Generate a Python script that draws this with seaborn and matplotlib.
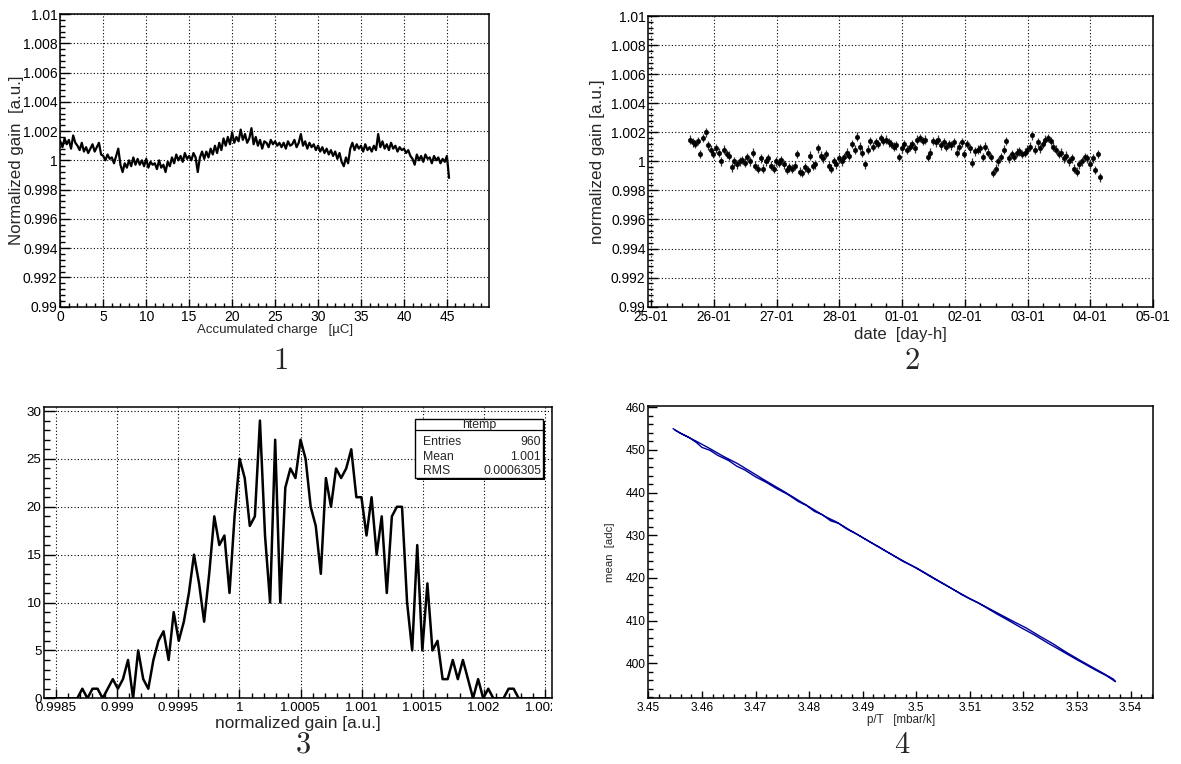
import numpy as np
import pandas as pd
import seaborn as sns
import matplotlib
matplotlib.use("Agg")
import matplotlib.pyplot as plt
from matplotlib.ticker import MultipleLocator, FixedLocator, FuncFormatter
from matplotlib.patches import Rectangle
from matplotlib.transforms import Bbox, TransformedBbox

# ---------------------------------------------------------------- data ----
# (1) normalized gain versus accumulated charge, one sample every 0.25 uC
charge_step_uC = 0.25
gain_vs_charge = [
    1.0013, 1.0009, 1.0015, 1.0011, 1.0014, 1.0008, 1.0017, 1.0012,
    1.0010, 1.0007, 1.0012, 1.0006, 1.0009, 1.0005, 1.0008, 1.0011,
    1.0006, 1.0009, 1.0012, 1.0004, 1.0003, 1.0000, 1.0004, 1.0001,
    1.0002, 0.9998, 1.0003, 1.0008, 0.9997, 0.9992, 0.9998, 0.9995,
    1.0000, 0.9996, 1.0002, 0.9997, 1.0001, 0.9997, 1.0000, 0.9996,
    1.0001, 0.9995, 0.9999, 0.9997, 0.9998, 0.9994, 1.0000, 0.9995,
    0.9997, 0.9992, 0.9999, 0.9996, 1.0002, 0.9998, 1.0004, 1.0000,
    1.0003, 0.9999, 1.0005, 1.0001, 1.0003, 1.0000, 1.0005, 1.0002,
    0.9992, 1.0002, 1.0006, 1.0001, 1.0006, 1.0002, 1.0008, 1.0004,
    1.0010, 1.0005, 1.0012, 1.0007, 1.0015, 1.0010, 1.0016, 1.0011,
    1.0019, 1.0012, 1.0016, 1.0013, 1.0021, 1.0014, 1.0018, 1.0012,
    1.0015, 1.0022, 1.0011, 1.0016, 1.0010, 1.0014, 1.0008, 1.0013,
    1.0012, 1.0009, 1.0014, 1.0011, 1.0013, 1.0010, 1.0012, 1.0009,
    1.0012, 1.0008, 1.0013, 1.0010, 1.0011, 1.0014, 1.0009, 1.0012,
    1.0018, 1.0010, 1.0013, 1.0008, 1.0012, 1.0009, 1.0011, 1.0007,
    1.0010, 1.0006, 1.0009, 1.0005, 1.0008, 1.0004, 1.0007, 1.0003,
    1.0006, 1.0001, 1.0005, 0.9999, 0.9996, 1.0002, 0.9998, 1.0008,
    1.0012, 1.0007, 1.0011, 1.0008, 1.0010, 1.0006, 1.0011, 1.0007,
    1.0009, 1.0006, 1.0010, 1.0007, 1.0018, 1.0009, 1.0013, 1.0008,
    1.0011, 1.0007, 1.0012, 1.0008, 1.0010, 1.0006, 1.0009, 1.0007,
    1.0008, 1.0005, 1.0007, 1.0003, 1.0001, 0.9997, 1.0004, 1.0000,
    1.0003, 0.9999, 1.0004, 1.0001, 1.0002, 0.9998, 1.0003, 1.0000,
    1.0002, 0.9998, 1.0001, 0.9999, 1.0003, 0.9988,
]

# (2) normalized gain versus time, hourly points starting at day 0.62
first_sample_day = 0.62
gain_vs_time = [
    1.0015, 1.0013, 1.0012, 1.0014, 1.0005, 1.0016, 1.0020, 1.0011, 1.0008, 1.0005, 1.0009, 1.0006,
    1.0000, 1.0008, 1.0005, 1.0004, 0.9996, 1.0000, 0.9998, 1.0000, 1.0001, 0.9999, 1.0003, 1.0000,
    1.0006, 0.9997, 0.9995, 1.0002, 0.9995, 1.0000, 1.0002, 0.9997, 0.9995, 1.0000, 0.9999, 1.0001,
    0.9998, 0.9994, 0.9996, 0.9995, 0.9997, 1.0005, 0.9993, 0.9992, 0.9996, 0.9994, 1.0004, 0.9997,
    0.9998, 1.0009, 1.0004, 1.0002, 1.0005, 0.9997, 0.9995, 1.0000, 0.9998, 1.0002, 1.0000, 1.0003,
    1.0006, 1.0004, 1.0012, 1.0008, 1.0017, 1.0010, 1.0006, 0.9998, 1.0008, 1.0014, 1.0010, 1.0013,
    1.0012, 1.0016, 1.0014, 1.0015, 1.0013, 1.0012, 1.0010, 1.0011, 1.0003, 1.0009, 1.0012, 1.0008,
    1.0010, 1.0012, 1.0009, 1.0015, 1.0016, 1.0014, 1.0015, 1.0003, 1.0006, 1.0014, 1.0013, 1.0015,
    1.0011, 1.0013, 1.0010, 1.0012, 1.0011, 1.0013, 1.0006, 1.0010, 1.0013, 1.0005, 1.0012, 1.0009,
    0.9999, 1.0007, 1.0008, 1.0009, 1.0003, 1.0010, 1.0006, 1.0003, 0.9992, 0.9995, 1.0000, 1.0003,
    1.0008, 1.0014, 1.0002, 1.0005, 1.0003, 1.0006, 1.0007, 1.0005, 1.0006, 1.0008, 1.0010, 1.0018,
    1.0008, 1.0013, 1.0009, 1.0012, 1.0015, 1.0016, 1.0014, 1.0010, 1.0008, 1.0005, 1.0006, 1.0002,
    1.0004, 1.0000, 1.0002, 0.9995, 0.9993, 0.9998, 1.0000, 1.0003, 1.0002, 0.9998, 1.0002, 0.9994,
    1.0005, 0.9989,
]
gain_time_err = 0.0003
date_labels = ["25-01", "26-01", "27-01", "28-01", "01-01",
               "02-01", "03-01", "04-01", "05-01"]

# (3) histogram of the normalized gain (100 bins)
hist_lo, hist_hi = 0.998407, 1.002552
hist_counts = [
    0, 0, 0, 0, 0, 0, 0, 1, 0, 1,
    1, 0, 1, 2, 1, 2, 4, 0, 5, 2,
    1, 4, 6, 7, 4, 9, 6, 8, 11, 15,
    12, 8, 13, 19, 16, 17, 11, 19, 25, 23,
    18, 19, 29, 17, 10, 27, 10, 22, 24, 23,
    27, 25, 20, 18, 13, 23, 20, 24, 23, 24,
    26, 21, 21, 17, 21, 15, 19, 11, 19, 20,
    20, 10, 5, 16, 5, 12, 5, 6, 2, 2,
    4, 2, 4, 2, 0, 2, 0, 1, 0, 0,
    0, 1, 1, 0, 0, 0, 0, 0, 0, 0,
]
stat_name = "htemp"
stat_entries = 960
stat_mean = "1.001"
stat_rms = "0.0006305"

# (4) mean amplitude versus p/T, two passes over the pressure range
pt_pass1 = [3.4546, 3.4560, 3.4575, 3.4590, 3.4600, 3.4615, 3.4630, 3.4650,
            3.4665, 3.4680, 3.4700, 3.4720, 3.4740, 3.4760, 3.4780, 3.4795,
            3.4810, 3.4825, 3.4840, 3.4855, 3.4870, 3.4890, 3.4910, 3.4930,
            3.4950, 3.4975, 3.5000, 3.5030, 3.5060, 3.5085, 3.5100, 3.5115,
            3.5130, 3.5150, 3.5170, 3.5195, 3.5220, 3.5245, 3.5270, 3.5295,
            3.5315, 3.5335, 3.5355, 3.5372]
mean_pass1 = [455.0, 453.9, 453.0, 451.7, 450.6, 449.9, 448.7, 447.5,
              446.2, 445.3, 443.7, 442.4, 440.9, 439.6, 437.9, 437.0,
              435.6, 434.8, 433.4, 432.8, 431.5, 430.2, 428.7, 427.3,
              425.8, 423.9, 422.4, 420.2, 418.0, 416.1, 415.1, 414.2,
              413.1, 411.6, 410.2, 408.4, 406.7, 404.8, 403.0, 401.2,
              399.8, 398.4, 397.1, 395.7]
pt_pass2 = [3.5368, 3.5340, 3.5310, 3.5280, 3.5255, 3.5230, 3.5205, 3.5180,
            3.5150, 3.5120, 3.5095, 3.5065, 3.5035, 3.5000, 3.4970, 3.4940,
            3.4905, 3.4875, 3.4850, 3.4830, 3.4805, 3.4780, 3.4750, 3.4720,
            3.4690, 3.4665, 3.4640, 3.4615, 3.4590, 3.4565, 3.4550]
mean_pass2 = [396.3, 398.3, 400.4, 402.6, 404.6, 406.4, 408.3, 409.9,
              411.9, 413.9, 415.5, 417.6, 419.7, 422.3, 424.4, 426.5,
              429.1, 431.3, 433.2, 434.4, 436.3, 438.2, 440.5, 442.7,
              445.0, 446.9, 448.5, 450.3, 452.0, 453.6, 454.6]

# ------------------------------------------------------------- styling ----
sns.set_theme(style="white")
plt.rcParams["font.family"] = ["Liberation Sans", "DejaVu Sans"]
plt.rcParams["axes.edgecolor"] = "black"
plt.rcParams["axes.linewidth"] = 1.1
plt.rcParams["xtick.color"] = "black"
plt.rcParams["ytick.color"] = "black"

W, H = 1181, 764
fig = plt.figure(figsize=(W / 100, H / 100), dpi=100)


def add_axes_px(left, top, right, bottom):
    return fig.add_axes([left / W, 1 - bottom / H, (right - left) / W, (bottom - top) / H])


def root_style(ax, xmaj, xmin, ymaj, ymin, fs_x, fs_y, grid=True):
    ax.set_facecolor("white")
    for s in ax.spines.values():
        s.set_visible(True)
        s.set_color("black")
        s.set_linewidth(1.1)
    ax.tick_params(axis="both", which="both", direction="in", top=False, right=False,
                   left=True, bottom=True, width=1.0, colors="black")
    ax.tick_params(axis="x", which="major", length=xmaj, labelsize=fs_x, pad=2.5)
    ax.tick_params(axis="x", which="minor", length=xmin)
    ax.tick_params(axis="y", which="major", length=ymaj, labelsize=fs_y, pad=2)
    ax.tick_params(axis="y", which="minor", length=ymin)
    if grid:
        ax.grid(True, which="major", color="black", linestyle=(0, (1, 2)), linewidth=0.8)
        ax.set_axisbelow(True)
    else:
        ax.grid(False)


fmt_g = FuncFormatter(lambda v, p: f"{v:.6g}")

# ---- panel 1 : gain vs accumulated charge
ax1 = add_axes_px(60.3, 14, 489, 306.7)
df1 = pd.DataFrame({
    "charge": np.arange(len(gain_vs_charge)) * charge_step_uC,
    "gain": gain_vs_charge,
})
sns.lineplot(data=df1, x="charge", y="gain", ax=ax1, color="black",
             linewidth=1.6, estimator=None, sort=False)
ax1.set_xlim(0, 49.9)
ax1.set_ylim(0.99, 1.01)
ax1.xaxis.set_major_locator(FixedLocator(list(range(0, 50, 5))))
ax1.xaxis.set_minor_locator(MultipleLocator(1))
ax1.yaxis.set_major_locator(FixedLocator(np.round(np.arange(0.99, 1.0101, 0.002), 3)))
ax1.yaxis.set_minor_locator(MultipleLocator(0.0004))
ax1.yaxis.set_major_formatter(fmt_g)
root_style(ax1, 5.8, 2.9, 7.2, 3.6, 10, 10)
ax1.set_xlabel("Accumulated charge   [\u00b5C]", fontsize=9.5, va="center")
ax1.set_ylabel("Normalized gain  [a.u.]", fontsize=12.2, va="center")
ax1.xaxis.set_label_coords(0.5, -0.08)
ax1.yaxis.set_label_coords(-0.102, 0.5)

# ---- panel 2 : gain vs date
ax2 = add_axes_px(648.4, 16, 1153, 306.7)
df2 = pd.DataFrame({
    "day": first_sample_day + np.arange(len(gain_vs_time)) / 24.0,
    "gain": gain_vs_time,
})
ax2.errorbar(df2["day"], df2["gain"], yerr=gain_time_err, fmt="none",
             ecolor="#333333", elinewidth=0.9, capsize=0, zorder=2)
sns.scatterplot(data=df2, x="day", y="gain", ax=ax2, color="black", s=11,
                edgecolor="black", linewidth=0.3, zorder=3)
ax2.set_xlim(-0.042, 8.0)
ax2.set_ylim(0.99, 1.01)
ax2.xaxis.set_major_locator(FixedLocator(list(range(len(date_labels)))))
ax2.set_xticklabels(date_labels)
ax2.xaxis.set_minor_locator(MultipleLocator(0.25))
ax2.yaxis.set_major_locator(FixedLocator(np.round(np.arange(0.99, 1.0101, 0.002), 3)))
ax2.yaxis.set_minor_locator(MultipleLocator(0.0004))
ax2.yaxis.set_major_formatter(fmt_g)
root_style(ax2, 5.8, 2.9, 7.2, 3.6, 9.8, 10)
ax2.set_xlabel("date  [day-h]", fontsize=12, va="center")
ax2.set_ylabel("normalized gain [a.u.]", fontsize=12.3, va="center")
ax2.xaxis.set_label_coords(0.5, -0.097)
ax2.yaxis.set_label_coords(-0.1, 0.5)

# ---- panel 3 : histogram of the normalized gain
ax3 = add_axes_px(44.3, 406.7, 551.7, 698.3)
edges = np.linspace(hist_lo, hist_hi, len(hist_counts) + 1)
df3 = pd.DataFrame({"gain": 0.5 * (edges[:-1] + edges[1:]), "count": hist_counts})
sns.lineplot(data=df3, x="gain", y="count", ax=ax3, color="black",
             linewidth=1.8, estimator=None, sort=False)
ax3.set_xlim(hist_lo, hist_hi)
ax3.set_ylim(0, max(hist_counts) * 1.05)
ax3.xaxis.set_major_locator(FixedLocator(np.round(np.arange(0.9985, 1.00251, 0.0005), 4)))
ax3.xaxis.set_minor_locator(MultipleLocator(0.0001))
ax3.xaxis.set_major_formatter(fmt_g)
ax3.yaxis.set_major_locator(MultipleLocator(5))
ax3.yaxis.set_minor_locator(MultipleLocator(1))
root_style(ax3, 6.5, 3.6, 8.2, 4.6, 9.6, 9.6)
ax3.set_xlabel("normalized gain [a.u.]", fontsize=12.4, va="center")
ax3.set_ylabel("")
ax3.xaxis.set_label_coords(0.5, -0.088)
clip_region = TransformedBbox(Bbox([[-0.2, -0.3], [1.0, 1.0]]), ax3.transAxes)
for lbl in ax3.get_xticklabels():
    lbl.set_clip_on(True)
    lbl.set_clip_box(clip_region)

# statistics box
bx0, bx1, by0, by1 = 0.7306, 0.9834, 0.7545, 0.9568
ax3.add_patch(Rectangle((bx0 + 0.004, by0 - 0.007), bx1 - bx0, by1 - by0,
                        transform=ax3.transAxes, facecolor="black",
                        edgecolor="none", zorder=5))
ax3.add_patch(Rectangle((bx0, by0), bx1 - bx0, by1 - by0, transform=ax3.transAxes,
                        facecolor="white", edgecolor="black", linewidth=1.0, zorder=6))
ax3.plot([bx0, bx1], [0.919, 0.919], transform=ax3.transAxes, color="black",
         linewidth=0.9, zorder=7)
ax3.text((bx0 + bx1) / 2, 0.937, stat_name, transform=ax3.transAxes, ha="center",
         va="center", fontsize=8.8, zorder=8)
stat_rows = [("Entries", f"{stat_entries}"), ("Mean", stat_mean), ("RMS", stat_rms)]
for k, (name, val) in enumerate(stat_rows):
    yy = 0.878 - k * 0.0493
    ax3.text(0.7458, yy, name, transform=ax3.transAxes, ha="left", va="center",
             fontsize=8.8, zorder=8)
    ax3.text(0.979, yy, val, transform=ax3.transAxes, ha="right", va="center",
             fontsize=8.8, zorder=8)

# ---- panel 4 : mean amplitude vs p/T
ax4 = add_axes_px(648.4, 406, 1153, 698.3)
df4 = pd.DataFrame({"pT": pt_pass1 + pt_pass2, "mean": mean_pass1 + mean_pass2})
sns.lineplot(data=df4, x="pT", y="mean", ax=ax4, color="#00009a",
             linewidth=1.0, estimator=None, sort=False)
ax4.set_xlim(3.45, 3.5442)
ax4.set_ylim(391.8, 460.3)
ax4.xaxis.set_major_locator(FixedLocator(np.round(np.arange(3.45, 3.5401, 0.01), 2)))
ax4.xaxis.set_minor_locator(MultipleLocator(0.002))
ax4.xaxis.set_major_formatter(fmt_g)
ax4.yaxis.set_major_locator(MultipleLocator(10))
ax4.yaxis.set_minor_locator(MultipleLocator(2))
root_style(ax4, 5.0, 2.6, 6.2, 3.4, 8.6, 8.6, grid=False)
ax4.set_xlabel("p/T   [mbar/k]", fontsize=8.4, va="center")
ax4.set_ylabel("mean  [adc]", fontsize=8.2, va="center")
ax4.xaxis.set_label_coords(0.5, -0.074)
ax4.yaxis.set_label_coords(-0.0753, 0.5)

# panel numbers
for num, (px, py) in zip("1234", [(281, 361), (912, 361), (303, 745), (902, 745)]):
    fig.text(px / W, 1 - py / H, num, ha="center", va="center",
             fontsize=22, family="cmr10")

fig.savefig("out.png", dpi=100, facecolor="white")
